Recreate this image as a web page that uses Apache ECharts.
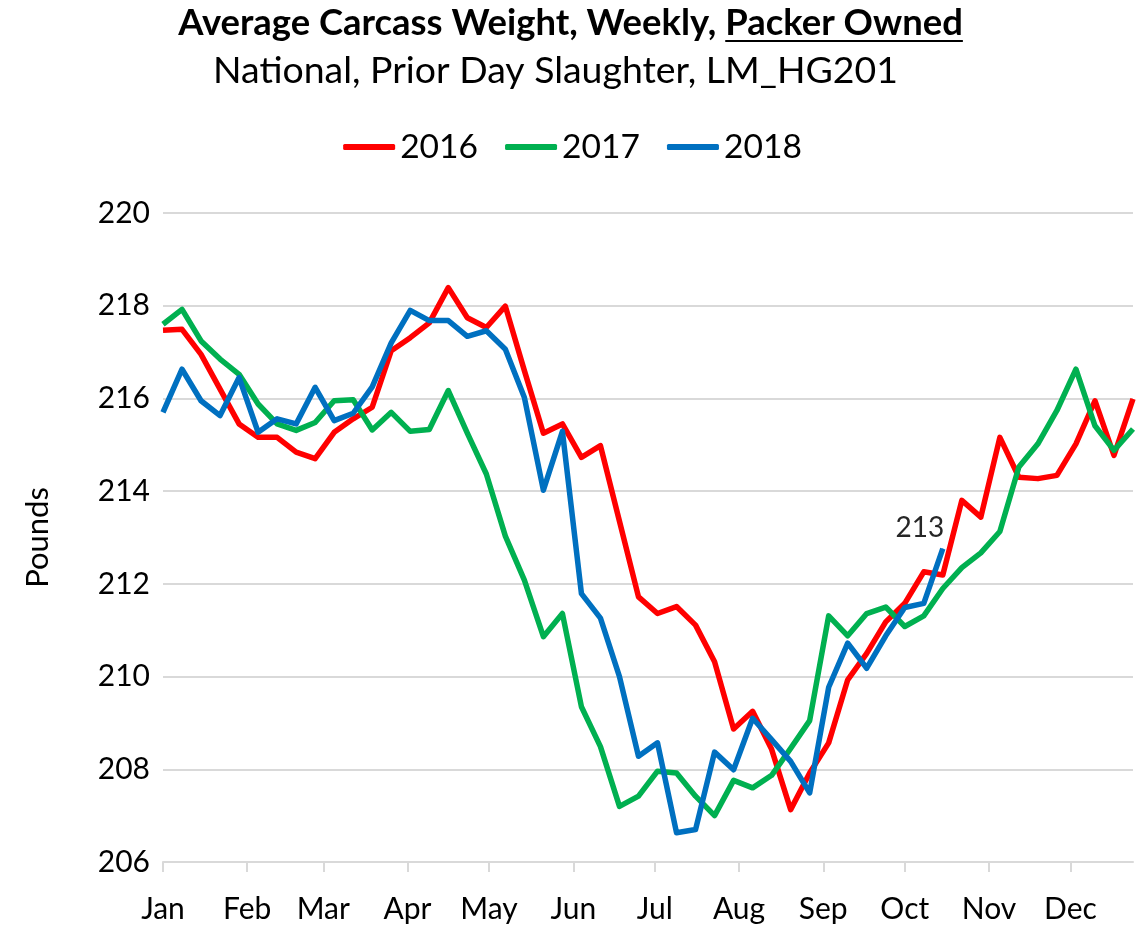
<!DOCTYPE html>
<html><head><meta charset="utf-8">
<script src="https://cdn.jsdelivr.net/npm/echarts@6/dist/echarts.min.js"></script>
<style>html,body{margin:0;padding:0;background:#fff}#c{width:1145px;height:926px}</style>
</head><body><div id="c"></div>
<script>
// ---- data ----
const monthLabels = ['Jan','Feb','Mar','Apr','May','Jun','Jul','Aug','Sep','Oct','Nov','Dec'];
const monthStartDays = [0,31,59,90,120,151,181,212,243,273,304,334];
const seriesNames = ['2016','2017','2018'];
const seriesColors = ['#FF0000','#00B050','#0070C0'];
const daysPerWeek = 7;
// weekly average carcass weight (lbs), week 1 = first week of January
const w2016 = [217.47,217.49,216.95,216.2,215.45,215.16,215.16,214.84,214.70,215.27,
  215.56,215.81,217.03,217.31,217.63,218.39,217.74,217.53,217.99,216.6,
  215.25,215.45,214.73,214.98,213.35,211.72,211.36,211.51,211.11,210.32,
  208.87,209.25,208.43,207.13,207.92,208.57,209.93,210.5,211.18,211.58,
  212.26,212.19,213.8,213.44,215.16,214.3,214.27,214.34,215.02,215.95,
  214.77,215.99];
const w2017 = [217.6,217.92,217.24,216.85,216.52,215.88,215.45,215.31,215.48,215.95,
  215.97,215.32,215.70,215.29,215.33,216.17,215.25,214.37,213.03,212.08,
  210.86,211.36,209.35,208.49,207.2,207.42,207.96,207.92,207.42,207.0,
  207.76,207.6,207.87,208.45,209.05,211.31,210.88,211.36,211.5,211.08,
  211.31,211.9,212.35,212.67,213.13,214.52,215.02,215.74,216.63,215.41,
  214.88,215.34];
const w2018 = [215.70,216.63,215.95,215.63,216.45,215.27,215.56,215.45,216.24,215.52,
  215.68,216.25,217.2,217.9,217.68,217.68,217.34,217.46,217.06,216.02,
  214.02,215.29,211.79,211.26,210.0,208.28,208.57,206.63,206.7,208.37,
  207.99,209.1,208.64,208.17,207.49,209.77,210.72,210.18,210.88,211.49,
  211.58,212.76];
const yMin = 206, yMax = 220, yStep = 2;
const titleMain = 'Average Carcass Weight, Weekly, ';
const titleUnderlined = 'Packer Owned';
const subTitle = 'National, Prior Day Slaughter, LM_HG201';
const yAxisName = 'Pounds';

// ---- layout helpers ----
const FONT = 'Lato';
const ctx = document.createElement('canvas').getContext('2d');
function measure(text, font){ ctx.font = font; return ctx.measureText(text).width; }
function fit(text, weight, target){ return 100 * target / measure(text, weight + ' 100px ' + FONT); }
const tSize = fit(titleMain + titleUnderlined, 'bold', 785);
const sSize = fit(subTitle, 'normal', 685);
const tFont = 'bold ' + tSize.toFixed(2) + 'px ' + FONT;
const tW = measure(titleMain + titleUnderlined, tFont);
const uW = measure(titleUnderlined, tFont);
const cx = 570.5;

function toPoints(arr, labelLast){
  return arr.map((v, i) => {
    const item = { value: [i * daysPerWeek, v] };
    if (labelLast && i === arr.length - 1) {
      item.symbol = 'circle';
      item.symbolSize = 1;
      item.label = { show: true, position: 'top', offset: [-23, -1],
        fontSize: 28, color: '#262626', fontFamily: FONT,
        formatter: p => String(Math.round(p.value[1])) };
    }
    return item;
  });
}
const allData = [w2016, w2017, w2018];

const chart = echarts.init(document.getElementById('c'), null, {renderer:'canvas'});
chart.setOption({
  animation: false,
  backgroundColor: '#fff',
  textStyle: { fontFamily: FONT },
  graphic: [
    { type: 'text', x: cx, y: 23, style: { text: titleMain + titleUnderlined, font: tFont,
      fill: '#000', align: 'center', verticalAlign: 'middle' } },
    { type: 'line', shape: { x1: cx + tW/2 - uW, y1: 41, x2: cx + tW/2, y2: 41 },
      style: { stroke: '#000', lineWidth: 2 } },
    { type: 'text', x: 555.5, y: 71, style: { text: subTitle,
      font: 'normal ' + sSize.toFixed(2) + 'px ' + FONT, fill: '#000', align: 'center', verticalAlign: 'middle' } }
  ],
  legend: {
    data: seriesNames, top: 125, left: 'center', icon: 'roundRect',
    itemWidth: 52, itemHeight: 6, itemGap: 27,
    textStyle: { fontSize: 33.6, color: '#000', fontFamily: FONT }
  },
  grid: { left: 163, right: 12, top: 213, bottom: 64 },
  xAxis: {
    type: 'value', min: 0, max: 357,
    axisLine: { show: true, lineStyle: { color: '#d9d9d9', width: 2 } },
    axisTick: { show: true, length: 10, lineStyle: { color: '#d9d9d9', width: 2 }, customValues: monthStartDays },
    axisLabel: { customValues: monthStartDays, fontSize: 30, color: '#000', margin: 32,
      formatter: v => monthLabels[monthStartDays.indexOf(v)] || '' },
    splitLine: { show: false }
  },
  yAxis: {
    type: 'value', min: yMin, max: yMax, interval: yStep,
    name: yAxisName, nameLocation: 'middle', nameGap: 110,
    nameTextStyle: { fontSize: 31, color: '#000', fontFamily: FONT },
    axisLine: { show: false }, axisTick: { show: false },
    axisLabel: { fontSize: 30, color: '#000', margin: 13 },
    splitLine: { lineStyle: { color: '#d9d9d9', width: 2 } }
  },
  series: seriesNames.map((name, k) => ({
    name, type: 'line', symbol: 'none',
    data: toPoints(allData[k], k === 2),
    lineStyle: { color: seriesColors[k], width: 5.5, join: 'round' },
    itemStyle: { color: seriesColors[k] },
    emphasis: { disabled: true }
  }))
});
</script></body></html>
